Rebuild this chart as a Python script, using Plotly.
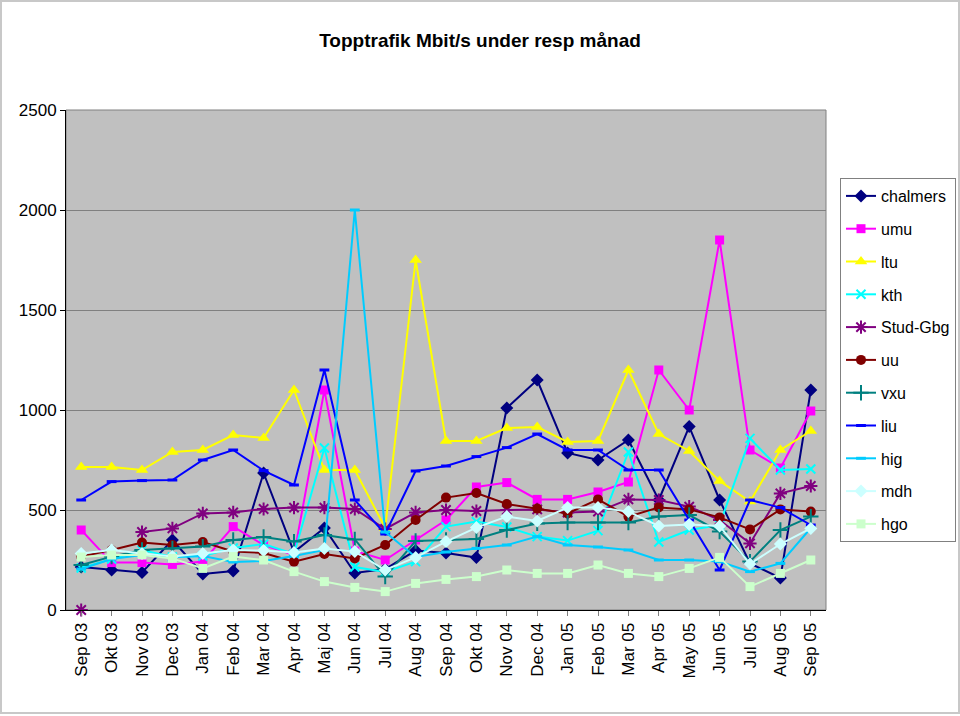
import plotly.graph_objects as go

months = ["Sep 03", "Okt 03", "Nov 03", "Dec 03", "Jan 04", "Feb 04", "Mar 04", "Apr 04",
          "Maj 04", "Jun 04", "Jul 04", "Aug 04", "Sep 04", "Okt 04", "Nov 04", "Dec 04",
          "Jan 05", "Feb 05", "Mar 05", "Apr 05", "May 05", "Jun 05", "Jul 05", "Aug 05", "Sep 05"]

chalmers = [215, 200, 188, 350, 180, 195, 685, 290, 410, 185, 205, 297, 285, 262, 1010, 1150,
            785, 750, 850, 550, 917, 550, 233, 160, 1100]
umu = [400, 237, 237, 228, 242, 417, 325, 275, 1100, 295, 250, 350, 450, 615, 637, 553,
       553, 590, 640, 1200, 1000, 1850, 800, 710, 995]
ltu = [715, 715, 700, 790, 800, 875, 860, 1100, 700, 700, 410, 1750, 845, 845, 910, 915,
       840, 845, 1200, 880, 795, 645, 542, 800, 895]
kth = [210, 255, 300, 265, 270, 310, 330, 280, 810, 215, 190, 242, 417, 442, 415, 367,
       347, 397, 790, 340, 400, 425, 858, 700, 705]
stud_gbg = [0, None, 390, 408, 483, 488, 505, 512, 512, 505, 405, 488, 500, 495, 500, 503,
            487, 492, 553, 550, 517, 450, 333, 583, 620]
uu = [267, 300, 337, 325, 340, 293, 285, 242, 280, 258, 325, 450, 562, 585, 530, 507,
      483, 553, 467, 513, 503, 463, 403, 503, 492]
vxu = [225, 267, 300, 308, 317, 350, 365, 342, 375, 353, 167, 345, 350, 355, 400, 433,
       437, 437, 437, 467, 475, 392, 242, 400, 467]
liu = [550, 642, 647, 650, 750, 800, 697, 625, 1200, 550, 380, 695, 720, 767, 812, 880,
       800, 800, 700, 700, 450, 200, 550, 512, 425]
hig = [205, 255, 275, 265, 270, 240, 245, 270, 300, 2000, 390, 265, 290, 308, 325, 367,
       325, 315, 300, 250, 250, 242, 192, 233, 410]
mdh = [283, 300, 283, 267, 283, 300, 297, 287, 308, 292, 200, 263, 342, 412, 467, 445,
       512, 512, 492, 420, 428, 420, 230, 330, 408]
hgo = [265, 275, 275, 258, 208, 267, 250, 192, 142, 113, 92, 133, 153, 167, 200, 183,
       183, 225, 183, 167, 208, 263, 117, 183, 250]

y_ticks = [0, 500, 1000, 1500, 2000, 2500]

series = [
    ("chalmers", chalmers, "#000080", dict(symbol="diamond", size=10)),
    ("umu", umu, "#FF00FF", dict(symbol="square", size=9)),
    ("ltu", ltu, "#FFFF00", dict(symbol="triangle-up", size=11)),
    ("kth", kth, "#00FFFF", dict(symbol="x-thin-open", size=9, line=dict(width=2, color="#00FFFF"))),
    ("Stud-Gbg", stud_gbg, "#800080", dict(symbol="asterisk-open", size=11, line=dict(width=2, color="#800080"))),
    ("uu", uu, "#800000", dict(symbol="circle", size=10)),
    ("vxu", vxu, "#008080", dict(symbol="cross-thin-open", size=11, line=dict(width=2, color="#008080"))),
    ("liu", liu, "#0000FF", dict(symbol="line-ew-open", size=7, line=dict(width=3, color="#0000FF"))),
    ("hig", hig, "#00CCFF", dict(symbol="line-ew-open", size=7, line=dict(width=3, color="#00CCFF"))),
    ("mdh", mdh, "#CCFFFF", dict(symbol="diamond", size=10)),
    ("hgo", hgo, "#CCFFCC", dict(symbol="square", size=9)),
]

fig = go.Figure()
for i, (name, vals, color, mk) in enumerate(series):
    m = dict(color=color)
    m.update(mk)
    fig.add_trace(go.Scatter(
        x=months, y=vals, name=name, mode="lines+markers",
        line=dict(color=color, width=2), marker=m, cliponaxis=False,
        connectgaps=False, legendgroup=f"g{i}",
    ))

font_main = "Liberation Sans, Arial, sans-serif"

fig.update_layout(
    width=960, height=716,
    margin=dict(l=66, r=134, t=110, b=106, autoexpand=False),
    paper_bgcolor="white",
    plot_bgcolor="#C0C0C0",
    title=dict(text="<b>Topptrafik Mbit/s under resp månad</b>", x=0.5, xanchor="center",
               xref="container", y=1 - 40 / 716, yanchor="middle", yref="container",
               font=dict(family=font_main, size=19, color="black")),
    font=dict(family=font_main, color="black"),
    showlegend=True,
    legend=dict(x=(840 - 66) / 760, y=(610 - 178) / 500, xanchor="left", yanchor="top",
                bgcolor="white", bordercolor="#808080", borderwidth=1,
                font=dict(family=font_main, size=16, color="black"),
                tracegroupgap=9, itemwidth=30),
    xaxis=dict(type="category", categoryorder="array", categoryarray=months,
               range=[-0.5, len(months) - 0.5],
               tickangle=-90, tickfont=dict(family=font_main, size=17),
               showline=True, linecolor="black", linewidth=1,
               ticks="outside", ticklen=5, tickcolor="#808080",
               showgrid=False, mirror=False, fixedrange=True),
    yaxis=dict(range=[0, 2500], tickvals=y_ticks, ticktext=[str(v) for v in y_ticks],
               tickfont=dict(family=font_main, size=17),
               showline=True, linecolor="black", linewidth=1,
               ticks="outside", ticklen=5, tickcolor="black",
               showgrid=True, gridcolor="#808080", gridwidth=1,
               zeroline=False, fixedrange=True),
    shapes=[
        dict(type="rect", xref="paper", yref="paper", x0=0, x1=1, y0=0, y1=1,
             line=dict(color="#808080", width=1), fillcolor="rgba(0,0,0,0)", layer="below"),
        dict(type="rect", xref="paper", yref="paper",
             x0=-65 / 760, x1=893 / 760, y0=-103 / 500, y1=109 / 500 + 1,
             line=dict(color="#C8C8C8", width=2), fillcolor="rgba(0,0,0,0)"),
    ],
)

fig.write_html("out.html", config={"displayModeBar": False},
               post_script="document.body.style.margin='0';")
